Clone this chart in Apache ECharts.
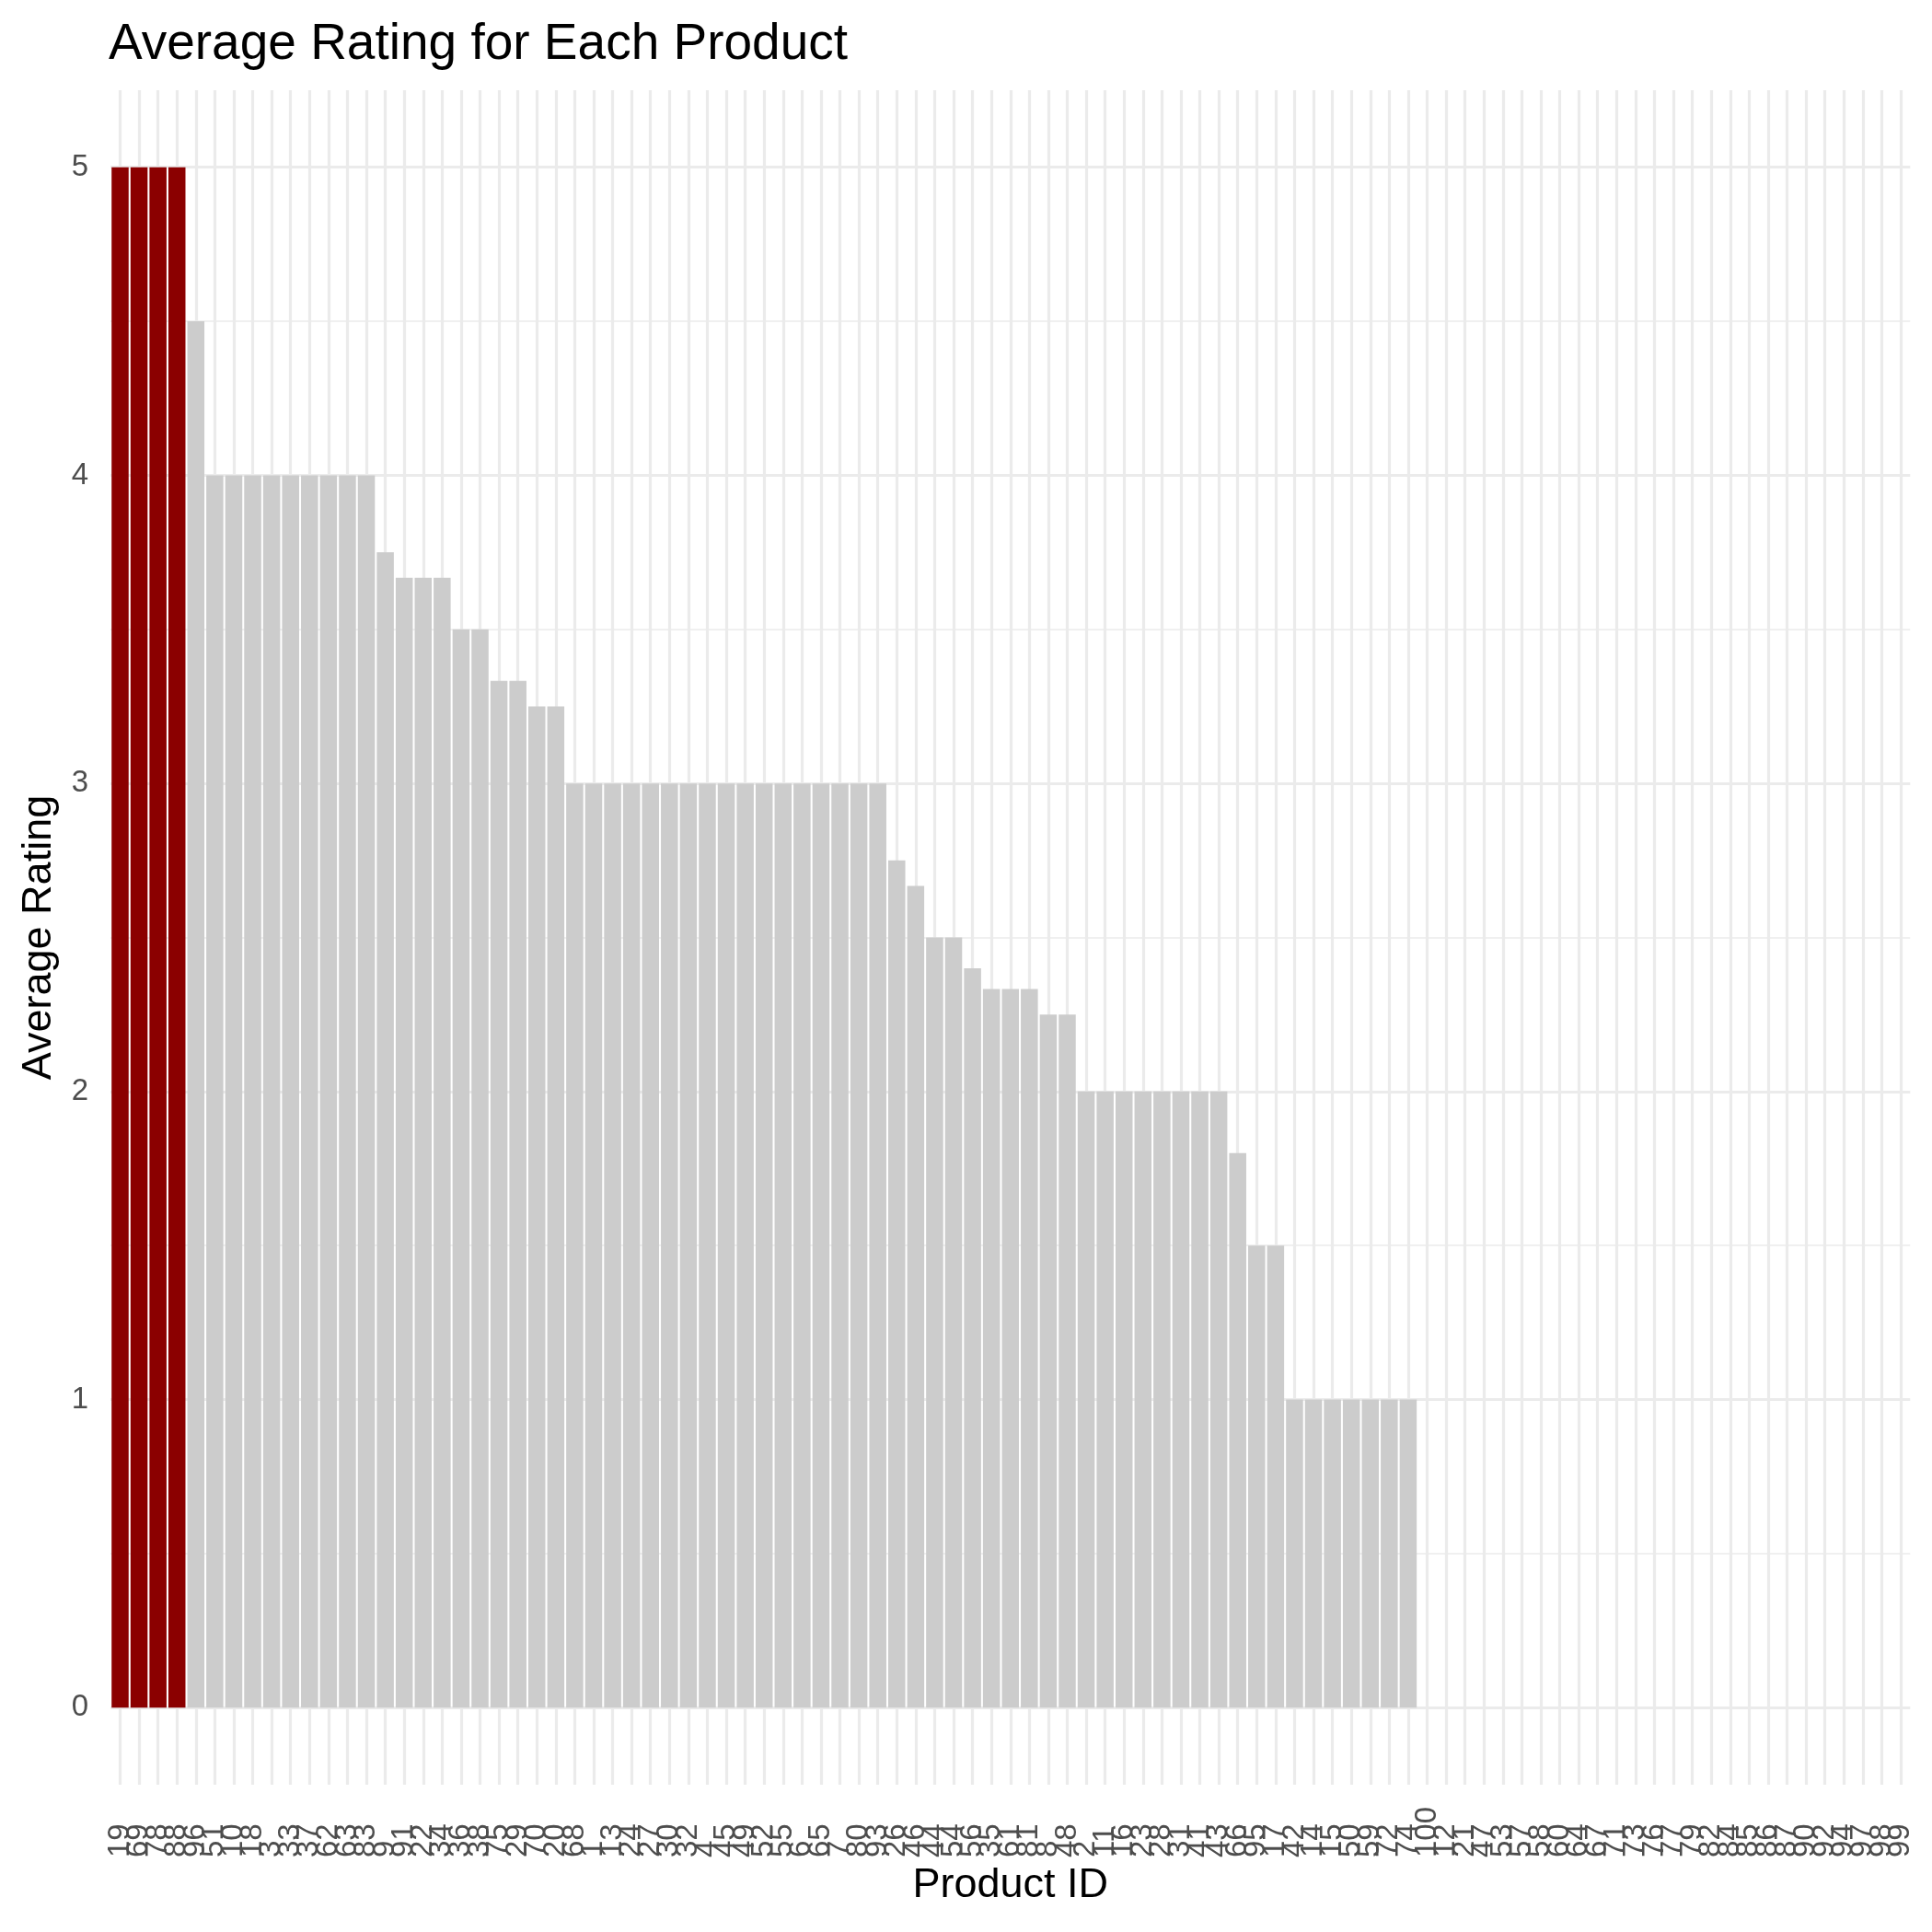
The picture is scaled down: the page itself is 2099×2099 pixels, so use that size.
<!DOCTYPE html>
<html>
<head>
<meta charset="utf-8">
<script src="https://cdn.jsdelivr.net/npm/echarts@6/dist/echarts.min.js"></script>
<style>
html,body{margin:0;padding:0;background:#ffffff;}
#chart{width:2099px;height:2099px;}
</style>
</head>
<body>
<div id="chart"></div>
<script>
// Product IDs in plotted order (sorted by average rating, then unrated products)
const productIds = [
  "19","69","78","88",
  "96",
  "51","10","18","3","33","37","62","63","83",
  "9",
  "91","22","34",
  "36","38",
  "75","29",
  "70","20",
  "68","1","13","24","27","30","32","4","45","49","52","55","6","65","7","80","93",
  "26",
  "46",
  "44","54",
  "56",
  "35","61","81",
  "8","48",
  "2","11","16","23","28","31","41","43",
  "66",
  "95","17",
  "42","14","15","50","59","72","74",
  "100","12","21","47","53","57","58","60","64","67","71","73","76","77","79","82","84","85","86","87","90","92","94","97","98","99"
];

// Average rating per product (null = no rating)
const avgRating = [
  5,5,5,5,
  4.5,
  4,4,4,4,4,4,4,4,4,
  3.75,
  3.667,3.667,3.667,
  3.5,3.5,
  3.333,3.333,
  3.25,3.25,
  3,3,3,3,3,3,3,3,3,3,3,3,3,3,3,3,3,
  2.75,
  2.667,
  2.5,2.5,
  2.4,
  2.333,2.333,2.333,
  2.25,2.25,
  2,2,2,2,2,2,2,2,
  1.8,
  1.5,1.5,
  1,1,1,1,1,1,1,
  null,null,null,null,null,null,null,null,null,null,null,null,null,
  null,null,null,null,null,null,null,null,null,null,null,null,null
];

const yTickLabels = ["0","1","2","3","4","5"];

const FONT = "Liberation Sans";
const maxRating = Math.max(...avgRating.filter(v => v !== null));

const barData = avgRating.map(v => ({
  value: v,
  itemStyle: { color: v === maxRating ? '#8B0000' : '#CCCCCC' }
}));

const T = 'rgba(0,0,0,0)';
const G = '#EBEBEB';

const chart = echarts.init(document.getElementById('chart'), null, { renderer: 'canvas' });

chart.setOption({
  animation: false,
  backgroundColor: '#ffffff',
  textStyle: { fontFamily: FONT },
  title: {
    text: 'Average Rating for Each Product',
    left: 118,
    top: 21,
    padding: 0,
    textStyle: { fontFamily: FONT, fontSize: 55, fontWeight: 'normal', color: '#000000' }
  },
  grid: {
    left: 120.2,
    right: 23.7,
    top: 98,
    bottom: 160,
    containLabel: false
  },
  xAxis: {
    type: 'category',
    data: productIds,
    boundaryGap: true,
    name: 'Product ID',
    nameLocation: 'middle',
    nameGap: 86,
    nameTextStyle: { fontFamily: FONT, fontSize: 45, color: '#000000' },
    axisLine: { show: false },
    axisTick: { show: false },
    axisLabel: {
      interval: 0,
      rotate: 90,
      margin: 24,
      color: '#4D4D4D',
      fontSize: 33,
      fontFamily: FONT,
      formatter: v => '{a|' + v + '}',
      rich: {
        a: { width: 55, align: 'left', fontSize: 33, fontFamily: FONT, color: '#4D4D4D' }
      }
    },
    splitLine: {
      show: true,
      interval: 0,
      alignWithLabel: true,
      lineStyle: { color: G, width: 3.2 }
    }
  },
  yAxis: [
    {
      type: 'value',
      min: -0.25,
      max: 5.25,
      interval: 0.25,
      name: 'Average Rating',
      nameLocation: 'middle',
      nameGap: 55,
      nameTextStyle: { fontFamily: FONT, fontSize: 45, color: '#000000' },
      axisLine: { show: false },
      axisTick: { show: false },
      axisLabel: {
        margin: 24,
        color: '#4D4D4D',
        fontSize: 33,
        fontFamily: FONT,
        formatter: v => {
          const r = Math.round(v);
          if (Math.abs(v - r) < 1e-6 && yTickLabels.indexOf(String(r)) >= 0) return String(r);
          return '';
        }
      },
      splitLine: {
        show: true,
        lineStyle: { color: [T, G, T, T], width: 3.2 }
      }
    },
    {
      type: 'value',
      min: -0.25,
      max: 5.25,
      interval: 0.25,
      position: 'left',
      axisLine: { show: false },
      axisTick: { show: false },
      axisLabel: { show: false },
      splitLine: {
        show: true,
        lineStyle: { color: [T, T, T, G], width: 1.6 }
      }
    }
  ],
  series: [
    {
      type: 'bar',
      data: barData,
      barCategoryGap: '10%',
      yAxisIndex: 0,
      emphasis: { disabled: true },
      silent: true
    }
  ]
});
</script>
</body>
</html>
